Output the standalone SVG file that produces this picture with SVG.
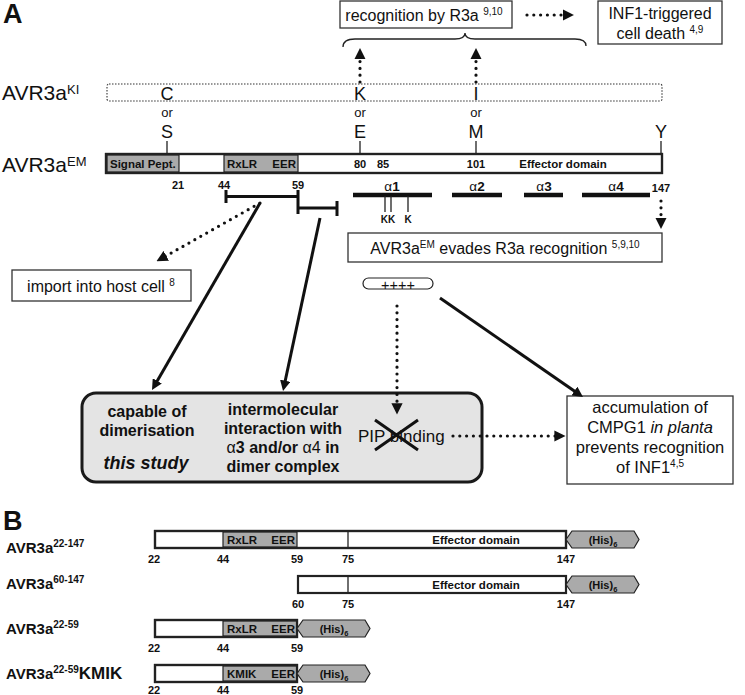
<svg xmlns="http://www.w3.org/2000/svg" width="745" height="695" viewBox="0 0 745 695">
<style>
text{font-family:"Liberation Sans",Arial,sans-serif;fill:#111}
.b{font-weight:bold}
.m{text-anchor:middle}
.box{fill:#fff;stroke:#333;stroke-width:1.3}
.bar{fill:#fff;stroke:#222;stroke-width:2.2}
.g{fill:#aaa;stroke:#222;stroke-width:1.2}
.tag{fill:#aaa;stroke:#222;stroke-width:1.2}
.dot{fill:none;stroke:#111;stroke-width:3.2;stroke-linecap:round;stroke-dasharray:0 6.8}
.sol{fill:none;stroke:#111;stroke-width:3}
.thin{stroke:#222;stroke-width:1.3;fill:none}
.hel{stroke:#111;stroke-width:4.5}
.num{font-size:11px;font-weight:bold}
</style>
<defs>
<marker id="ah" viewBox="0 0 10 10" refX="2" refY="5" markerWidth="3.5" markerHeight="3.5" orient="auto"><path d="M0,0 L10,5 L0,10 Z" fill="#111"/></marker>
</defs>
<rect width="745" height="695" fill="#fff"/>

<!-- Panel A -->
<text x="3" y="23" font-size="27" class="b">A</text>

<g id="recognition">
<rect class="box" x="340" y="1" width="172" height="27"/>
<text x="424" y="21" font-size="16" class="m">recognition by R3a <tspan font-size="10" dy="-6">9,10</tspan></text>
</g>
<g id="inf1">
<rect class="box" x="598" y="1" width="124" height="43"/>
<text x="660" y="19" font-size="16" class="m">INF1-triggered</text>
<text x="660" y="39" font-size="16" class="m">cell death <tspan font-size="10" dy="-6">4,9</tspan></text>
</g>
<path id="brace" class="thin" d="M343,47 Q343,39 355,39 L455,39 Q465,39 465,33 Q465,39 475,39 L575,39 Q586,39 586,46"/>

<g id="avr3aKI">
<text x="2" y="100" font-size="21">AVR3a<tspan font-size="13" dy="-6">KI</tspan></text>
<rect x="107" y="84" width="555" height="17" rx="2" fill="none" stroke="#333" stroke-width="1.1" stroke-dasharray="1.5 1.5"/>
<text x="167" y="100" font-size="18" class="m">C</text>
<text x="360" y="100" font-size="18" class="m">K</text>
<text x="476" y="100" font-size="18" class="m">I</text>
<text x="167" y="117" font-size="13" class="m">or</text>
<text x="360" y="117" font-size="13" class="m">or</text>
<text x="476" y="117" font-size="13" class="m">or</text>
<text x="167" y="138" font-size="18" class="m">S</text>
<text x="360" y="138" font-size="18" class="m">E</text>
<text x="476" y="138" font-size="18" class="m">M</text>
<text x="661" y="138" font-size="18" class="m">Y</text>
<path class="thin" d="M167,141 V154 M360,141 V154 M476,141 V154 M661,141 V154"/>
</g>

<g id="avr3aEM">
<text x="2" y="172" font-size="21">AVR3a<tspan font-size="13" dy="-6">EM</tspan></text>
<rect class="bar" x="106" y="154" width="556" height="19"/>
<rect class="g" x="107" y="155" width="72" height="17"/>
<rect class="g" x="224" y="155" width="74" height="17"/>
<rect x="106" y="154" width="556" height="19" fill="none" stroke="#222" stroke-width="2.2"/>
<text x="110" y="168" font-size="11.5" class="b">Signal Pept.</text>
<text x="227" y="168" font-size="11.5" class="b">RxLR</text>
<text x="296" y="168" font-size="11.5" class="b" text-anchor="end">EER</text>
<text x="360" y="168" class="num m">80</text>
<text x="383" y="168" class="num m">85</text>
<text x="476" y="168" class="num m">101</text>
<text x="563" y="168" font-size="11.5" class="b m">Effector domain</text>
<text x="178" y="189" class="num m">21</text>
<text x="224" y="189" class="num m">44</text>
<text x="298" y="189" class="num m">59</text>
<text x="661" y="192" class="num m">147</text>
</g>

<g id="brackets">
<path class="sol" d="M226,190 V203 M226,196.5 H298 M298,190 V214 M298,208 H337 M337,201 V216"/>
</g>

<g id="helices">
<path class="hel" d="M353,195 H432 M452,195 H502 M524,195 H563 M582,195 H650"/>
<text x="392" y="191" font-size="13.5" class="m">α<tspan class="b">1</tspan></text>
<text x="477" y="191" font-size="13.5" class="m">α<tspan class="b">2</tspan></text>
<text x="544" y="191" font-size="13.5" class="m">α<tspan class="b">3</tspan></text>
<text x="616" y="191" font-size="13.5" class="m">α<tspan class="b">4</tspan></text>
<path class="thin" d="M385,196 V212 M391,196 V212 M408,196 V212"/>
<text x="388" y="223" font-size="10" class="b m">KK</text>
<text x="408" y="223" font-size="10" class="b m">K</text>
</g>

<g id="evades">
<rect class="box" x="348" y="233" width="314" height="29"/>
<text x="505" y="254" font-size="16" class="m">AVR3a<tspan font-size="10" dy="-6">EM</tspan><tspan dy="6"> evades R3a recognition </tspan><tspan font-size="10" dy="-6">5,9,10</tspan></text>
</g>

<g id="import">
<rect class="box" x="12" y="270" width="179" height="31"/>
<text x="101" y="292" font-size="16" class="m">import into host cell <tspan font-size="10" dy="-6">8</tspan></text>
</g>

<g id="charge">
<rect x="363" y="278" width="70" height="11" rx="5.5" fill="#fff" stroke="#222" stroke-width="1.2"/>
<text x="398" y="289.5" font-size="14.5" class="m">++++</text>
</g>

<g id="dimer-box">
<rect x="82" y="393" width="400" height="89" rx="14" fill="#e4e4e4" stroke="#1a1a1a" stroke-width="3"/>
<text x="147" y="417" font-size="16" class="b m">capable of</text>
<text x="147" y="436" font-size="16" class="b m">dimerisation</text>
<text x="146" y="469" font-size="18" class="b m" font-style="italic">this study</text>
<text x="283" y="415" font-size="16" class="b m">intermolecular</text>
<text x="283" y="434" font-size="16" class="b m">interaction with</text>
<text x="283" y="453" font-size="16" class="m">α<tspan class="b">3 and/or </tspan>α4<tspan class="b"> in</tspan></text>
<text x="283" y="472" font-size="16" class="b m">dimer complex</text>
<text x="358" y="442" font-size="17">PIP binding</text>
<path d="M375,420 L418,450 M375,450 L418,420" stroke="#111" stroke-width="3"/>
</g>

<g id="accumulation">
<rect class="box" x="567" y="396" width="166" height="88"/>
<text x="650" y="413" font-size="16.5" class="m">accumulation of</text>
<text x="650" y="433" font-size="16.5" class="m">CMPG1 <tspan font-style="italic">in planta</tspan></text>
<text x="650" y="453" font-size="16.5" class="m">prevents recognition</text>
<text x="650" y="473" font-size="16.5" class="m">of INF1<tspan font-size="10" dy="-6">4,5</tspan></text>
</g>

<g id="connectors">
<path class="dot" d="M527,15 H565" marker-end="url(#ah)"/>
<path class="dot" d="M360,82 V57" marker-end="url(#ah)"/>
<path class="dot" d="M476,82 V57" marker-end="url(#ah)"/>
<path class="dot" d="M661,201 V220" marker-end="url(#ah)"/>
<path class="dot" d="M260,203 L164.3,256.9" marker-end="url(#ah)"/>
<path class="sol" d="M260,203 L156.2,382.7" marker-end="url(#ah)"/>
<path class="sol" d="M320,218 L284.8,382.8" marker-end="url(#ah)"/>
<path class="dot" d="M397,306 V405.6" marker-end="url(#ah)"/>
<path class="sol" d="M440,298 L576.1,392.2" marker-end="url(#ah)"/>
<path class="dot" d="M453,436 H556.6" marker-end="url(#ah)"/>
</g>

<!-- Panel B -->
<text x="3" y="530" font-size="27" class="b">B</text>

<g id="row1">
<text x="6" y="553" font-size="15" class="b">AVR3a<tspan font-size="10" dy="-6">22-147</tspan></text>
<rect class="bar" x="155" y="531" width="411" height="17"/>
<rect class="g" x="223" y="532" width="74" height="15"/>
<path class="thin" d="M348,531 V548"/>
<rect x="155" y="531" width="411" height="17" fill="none" stroke="#222" stroke-width="2.2"/>
<text x="227" y="544" font-size="11.5" class="b">RxLR</text>
<text x="295" y="544" font-size="11.5" class="b" text-anchor="end">EER</text>
<text x="476" y="544" font-size="11.5" class="b m">Effector domain</text>
<polygon class="tag" points="566,539.5 572,531 634,531 639,539.5 634,548 572,548"/>
<text x="603" y="544" font-size="11" class="b m">(His)<tspan font-size="7.5" dy="3">6</tspan></text>
<text x="154" y="563" class="num m">22</text>
<text x="223" y="563" class="num m">44</text>
<text x="297" y="563" class="num m">59</text>
<text x="348" y="563" class="num m">75</text>
<text x="566" y="563" class="num m">147</text>
</g>

<g id="row2">
<text x="6" y="589" font-size="15" class="b">AVR3a<tspan font-size="10" dy="-6">60-147</tspan></text>
<rect class="bar" x="298" y="576" width="268" height="17"/>
<path class="thin" d="M348,576 V593"/>
<text x="476" y="589" font-size="11.5" class="b m">Effector domain</text>
<polygon class="tag" points="566,584.5 572,576 634,576 639,584.5 634,593 572,593"/>
<text x="603" y="589" font-size="11" class="b m">(His)<tspan font-size="7.5" dy="3">6</tspan></text>
<text x="298" y="608" class="num m">60</text>
<text x="348" y="608" class="num m">75</text>
<text x="566" y="608" class="num m">147</text>
</g>

<g id="row3">
<text x="6" y="634" font-size="15" class="b">AVR3a<tspan font-size="10" dy="-6">22-59</tspan></text>
<rect class="bar" x="155" y="620" width="142" height="17"/>
<rect class="g" x="223" y="621" width="74" height="15"/>
<rect x="155" y="620" width="142" height="17" fill="none" stroke="#222" stroke-width="2.2"/>
<text x="227" y="633" font-size="11.5" class="b">RxLR</text>
<text x="295" y="633" font-size="11.5" class="b" text-anchor="end">EER</text>
<polygon class="tag" points="297,628.5 303,620 365,620 370,628.5 365,637 303,637"/>
<text x="334" y="633" font-size="11" class="b m">(His)<tspan font-size="7.5" dy="3">6</tspan></text>
<text x="154" y="652" class="num m">22</text>
<text x="223" y="652" class="num m">44</text>
<text x="297" y="652" class="num m">59</text>
</g>

<g id="row4">
<text x="6" y="679" font-size="15" class="b">AVR3a<tspan font-size="10" dy="-6">22-59</tspan><tspan font-size="17" dy="6">KMIK</tspan></text>
<rect class="bar" x="155" y="665" width="142" height="17"/>
<rect class="g" x="223" y="666" width="74" height="15"/>
<rect x="155" y="665" width="142" height="17" fill="none" stroke="#222" stroke-width="2.2"/>
<text x="227" y="678" font-size="11.5" class="b">KMIK</text>
<text x="295" y="678" font-size="11.5" class="b" text-anchor="end">EER</text>
<polygon class="tag" points="297,673.5 303,665 365,665 370,673.5 365,682 303,682"/>
<text x="334" y="678" font-size="11" class="b m">(His)<tspan font-size="7.5" dy="3">6</tspan></text>
<text x="154" y="694" class="num m">22</text>
<text x="223" y="694" class="num m">44</text>
<text x="297" y="694" class="num m">59</text>
</g>
</svg>
